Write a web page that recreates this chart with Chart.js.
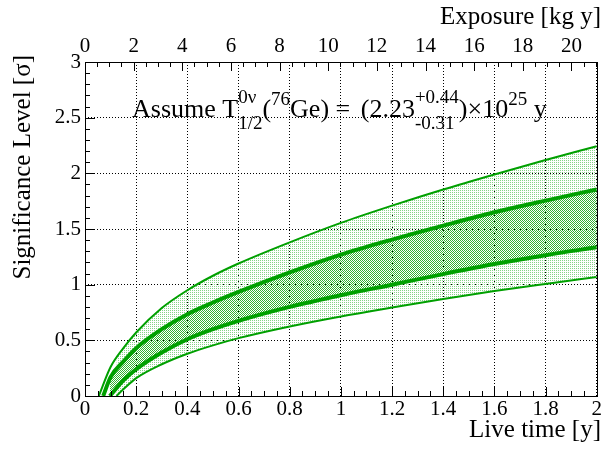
<!DOCTYPE html>
<html><head><meta charset="utf-8">
<script src="https://cdn.jsdelivr.net/npm/chart.js@4"></script>
<style>html,body{margin:0;padding:0;background:#fff}#wrap{width:603px;height:450px}</style>
</head><body><div id="wrap"><canvas id="c" width="603" height="450"></canvas></div>
<script>
// ---- data ----
const upperOuterX = [0.054,0.1,0.15,0.2,0.3,0.4,0.5,0.6,0.8,1.0,1.2,1.4,1.6,1.8,2.0];
const upperOuterY = [0,0.26,0.43,0.57,0.79,0.95,1.08,1.19,1.38,1.555,1.71,1.855,1.99,2.12,2.244];
const upperInnerX = [0.071,0.1,0.15,0.2,0.3,0.4,0.5,0.6,0.8,1.0,1.2,1.4,1.6,1.8,2.0];
const upperInnerY = [0,0.17,0.31,0.43,0.60,0.735,0.84,0.935,1.11,1.27,1.405,1.53,1.65,1.755,1.855];
const lowerInnerX = [0.097,0.15,0.2,0.3,0.4,0.5,0.6,0.8,1.0,1.2,1.4,1.6,1.8,2.0];
const lowerInnerY = [0,0.14,0.24,0.39,0.51,0.60,0.675,0.80,0.905,1.0,1.095,1.185,1.265,1.336];
const lowerOuterX = [0.123,0.15,0.2,0.3,0.4,0.5,0.6,0.8,1.0,1.2,1.4,1.6,1.8,2.0];
const lowerOuterY = [0,0.06,0.16,0.285,0.38,0.455,0.52,0.625,0.715,0.795,0.872,0.943,1.007,1.068];

const yTicks = [0,0.5,1,1.5,2,2.5,3];
const yTickLabels = ['0','0.5','1','1.5','2','2.5','3'];
const xTicks = [0,0.2,0.4,0.6,0.8,1,1.2,1.4,1.6,1.8,2];
const xTickLabels = ['0','0.2','0.4','0.6','0.8','1','1.2','1.4','1.6','1.8','2'];
const exposureTicks = [0,2,4,6,8,10,12,14,16,18,20];
const exposureTickLabels = ['0','2','4','6','8','10','12','14','16','18','20'];
const exposureMax = 21.04;

const xTitle = 'Live time [y]';
const yTitle = 'Significance Level [σ]';
const topTitle = 'Exposure [kg y]';

const pts = (xs, ys) => xs.map((x, i) => ({x, y: ys[i]}));

const canvas = document.getElementById('c');
const ctx = canvas.getContext('2d');
function makePattern(w, h, pixels, color) {
  const c = document.createElement('canvas');
  c.width = w; c.height = h;
  const g = c.getContext('2d');
  g.fillStyle = color;
  pixels.forEach(([px, py]) => g.fillRect(px, py, 1, 1));
  return ctx.createPattern(c, 'repeat');
}
const outerPattern = makePattern(2, 2, [[0,0]], 'rgb(135,212,135)');
const innerPattern = makePattern(2, 2, [[0,0],[1,1]], 'rgb(50,178,50)');

const GREEN = '#00a000';
const SERIF = '"Liberation Serif", "Times New Roman", serif';

const decorPlugin = {
  id: 'decor',
  afterDraw(chart) {
    const c = chart.ctx, a = chart.chartArea;
    const sx = chart.scales.x, sy = chart.scales.y, st = chart.scales.x2;
    c.save();
    c.strokeStyle = '#000'; c.lineWidth = 1; c.setLineDash([]);
    c.beginPath();
    for (let i = 0; i <= 30; i++) {
      const v = i / 10, py = Math.round(sy.getPixelForValue(v)) + 0.5;
      const len = (i % 5 === 0) ? 10 : 5;
      c.moveTo(a.left, py); c.lineTo(a.left + len, py);
    }
    for (let i = 0; i <= 40; i++) {
      const v = i / 20, px = Math.round(sx.getPixelForValue(v)) + 0.5;
      const len = (i % 4 === 0) ? 9 : 5;
      c.moveTo(px, a.bottom); c.lineTo(px, a.bottom - len);
    }
    for (let i = 0; i * 0.5 <= exposureMax; i++) {
      const v = i * 0.5, px = Math.round(st.getPixelForValue(v)) + 0.5;
      const len = (i % 4 === 0) ? 9 : 5;
      c.moveTo(px, a.top); c.lineTo(px, a.top + len);
    }
    c.stroke();
    c.strokeRect(Math.round(a.left) + 0.5, Math.round(a.top) + 0.5,
                 Math.round(a.right - a.left), Math.round(a.bottom - a.top));
    c.fillStyle = '#000';
    c.font = '25px ' + SERIF;
    c.textBaseline = 'alphabetic';
    c.textAlign = 'right';
    c.fillText(xTitle, 601, 437);
    c.fillText(topTitle, 601, 24);
    c.save();
    c.translate(30, 55); c.rotate(-Math.PI / 2);
    c.fillText(yTitle, 0, 0);
    c.restore();
    c.textAlign = 'left';
    const main = '26px ' + SERIF, small = '19px ' + SERIF;
    let x = 132; const base = 117;
    const put = (t, f, dy) => { c.font = f; c.fillText(t, x, base + dy); return c.measureText(t).width; };
    const stack = (sup, sub) => {
      c.font = small;
      const w1 = c.measureText(sup).width, w2 = c.measureText(sub).width;
      c.fillText(sup, x, base - 14); c.fillText(sub, x, base + 12);
      x += Math.max(w1, w2);
    };
    x += put('Assume T', main, 0);
    stack('0ν', '1/2');
    x += put('(', main, 0);
    x += put('76', small, -12);
    x += put('Ge) = ', main, 0);
    x += 4;
    x += put('(2.23', main, 0);
    stack('+0.44', '-0.31');
    x += put(')×10', main, 0);
    x += put('25', small, -12);
    x += put(' y', main, 0);
    c.restore();
  }
};

const tickFont = {family: SERIF, size: 21};

new Chart(ctx, {
  type: 'line',
  data: {
    datasets: [
      {label: 'upper outer', data: pts(upperOuterX, upperOuterY), borderColor: GREEN, borderWidth: 2, fill: false},
      {label: 'upper inner', data: pts(upperInnerX, upperInnerY), borderColor: GREEN, borderWidth: 4, fill: false},
      {label: 'lower inner', data: pts(lowerInnerX, lowerInnerY), borderColor: GREEN, borderWidth: 4, fill: 1, backgroundColor: innerPattern},
      {label: 'lower outer', data: pts(lowerOuterX, lowerOuterY), borderColor: GREEN, borderWidth: 2, fill: 0, backgroundColor: outerPattern}
    ]
  },
  options: {
    responsive: false,
    animation: false,
    devicePixelRatio: 1,
    layout: {padding: {left: 0, right: 3, top: 0, bottom: 0}},
    elements: {point: {radius: 0}, line: {cubicInterpolationMode: 'monotone'}},
    plugins: {legend: {display: false}, tooltip: {enabled: false}, filler: {drawTime: 'beforeDatasetsDraw'}},
    scales: {
      x: {
        type: 'linear', position: 'bottom', min: 0, max: 2,
        afterFit: s => { s.height = 54; },
        afterBuildTicks: s => { s.ticks = xTicks.map(v => ({value: v})); },
        ticks: {font: tickFont, color: '#000', padding: 1, maxRotation: 0, autoSkip: false,
                callback: (v) => xTickLabels[xTicks.indexOf(v)] ?? ''},
        grid: {color: '#000', lineWidth: 1, drawTicks: false},
        border: {display: false, dash: [1, 2]}
      },
      x2: {
        type: 'linear', position: 'top', min: 0, max: exposureMax,
        afterFit: s => { s.height = 62; },
        afterBuildTicks: s => { s.ticks = exposureTicks.map(v => ({value: v})); },
        ticks: {font: tickFont, color: '#000', padding: 3, maxRotation: 0, autoSkip: false,
                callback: (v) => exposureTickLabels[exposureTicks.indexOf(v)] ?? ''},
        grid: {display: false, drawTicks: false},
        border: {display: false}
      },
      y: {
        type: 'linear', position: 'left', min: 0, max: 3,
        afterFit: s => { s.width = 85; },
        afterBuildTicks: s => { s.ticks = yTicks.map(v => ({value: v})); },
        ticks: {font: tickFont, color: '#000', padding: 4, autoSkip: false,
                callback: (v) => yTickLabels[yTicks.indexOf(v)] ?? ''},
        grid: {color: '#000', lineWidth: 1, drawTicks: false},
        border: {display: false, dash: [1, 2]}
      }
    }
  },
  plugins: [decorPlugin]
});
</script></body></html>
